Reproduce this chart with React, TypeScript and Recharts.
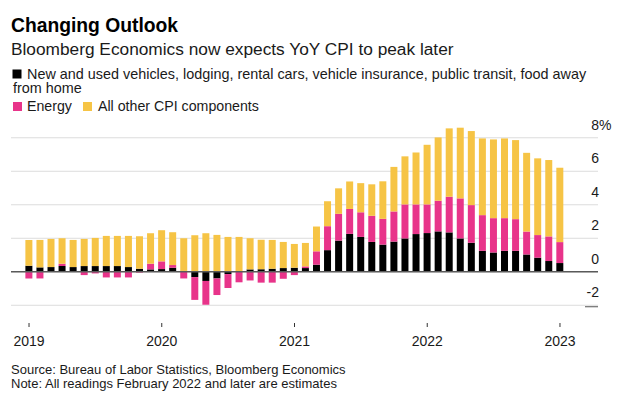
import React from "react";
import {
  Bar,
  BarChart,
  CartesianGrid,
  ReferenceLine,
  XAxis,
  YAxis,
} from "recharts";

const FONT = '"Liberation Sans", Arial, Helvetica, sans-serif';

const years = [2019, 2020, 2021, 2022, 2023];
const monthNames = ["Jan", "Feb", "Mar", "Apr", "May", "Jun", "Jul", "Aug", "Sep", "Oct", "Nov", "Dec"];
const months = years
  .flatMap((y) => monthNames.map((m) => `${m} ${y}`))
  .slice(0, 49);

// black: vehicles, lodging, rental cars, insurance, transit, food away from home
const servicesGoods = [
  0.36, 0.26, 0.28, 0.34, 0.28, 0.34, 0.34, 0.34, 0.34, 0.28, 0.18, 0.14,
  0.16, 0.24, 0.05, -0.32, -0.55, -0.4, -0.14, 0, 0.14, 0.15, 0.18, 0.22,
  0.24, 0.22, 0.42, 1.29, 1.86, 2.26, 2.08, 1.78, 1.62, 1.8, 1.99, 2.25,
  2.31, 2.41, 2.35, 1.99, 1.73, 1.25, 1.15, 1.25, 1.25, 1.03, 0.84, 0.64,
  0.52,
];

const energy = [
  -0.4, -0.4, 0, 0.14, 0, -0.2, -0.1, -0.34, -0.34, -0.34, -0.05, 0.34,
  0.46, 0.16, -0.4, -1.36, -1.42, -0.99, -0.83, -0.63, -0.52, -0.65, -0.65, -0.42,
  -0.2, 0.1, 0.8, 1.43, 1.6, 1.49, 1.47, 1.56, 1.54, 1.8, 2.03, 1.77,
  1.71, 1.83, 2.13, 2.39, 2.25, 2.13, 2.05, 1.95, 1.89, 1.37, 1.35, 1.47,
  1.25,
];

const otherCpi = [
  1.54, 1.64, 1.68, 1.52, 1.62, 1.62, 1.68, 1.8, 1.8, 1.86, 1.94, 1.82,
  1.86, 1.96, 1.95, 2.18, 2.3, 2.2, 2.08, 2.08, 1.86, 1.76, 1.72, 1.56,
  1.42, 1.4, 1.48, 1.49, 1.52, 1.64, 1.74, 1.88, 2.24, 2.66, 2.87, 3.1,
  3.56, 3.78, 4.08, 4.22, 4.42, 4.58, 4.7, 4.76, 4.72, 4.7, 4.58, 4.56,
  4.44,
];

const yTicks = [-2, 0, 2, 4, 6, 8];

const data = months.map((month, i) => ({
  month,
  black: servicesGoods[i],
  energy: energy[i],
  other: otherCpi[i],
}));

const BLACK = "#000000";
const PINK = "#e8348a";
const YELLOW = "#f6c445";
const TEXT = "#1a1a1a";

const XTick = (props: any) => {
  const { x, y, payload } = props;
  return (
    <g>
      <line x1={x} x2={x} y1={y + 1} y2={y + 5} stroke="#333" strokeWidth={1} />
      <text x={x} y={y + 24} textAnchor="middle" fontSize={14} fill={TEXT} fontFamily={FONT}>
        {String(payload.value).split(" ")[1]}
      </text>
    </g>
  );
};

const YTick = (props: any) => {
  const { x, y, payload } = props;
  const v = payload.value;
  return (
    <g>
      <text x={x + 1} y={y - 8} textAnchor="end" fontSize={14} fill={TEXT} fontFamily={FONT}>
        {v}
      </text>
      {v === 8 && (
        <text x={x + 1} y={y - 8} textAnchor="start" fontSize={14} fill={TEXT} fontFamily={FONT}>
          %
        </text>
      )}
      {v === -2 && (
        <line x1={x - 13} x2={x} y1={y + 1.5} y2={y + 1.5} stroke="#555" strokeWidth={1} />
      )}
    </g>
  );
};

const App = () => {
  return (
    <div
      style={{
        position: "absolute",
        left: 0,
        top: 0,
        width: 630,
        height: 412,
        background: "#fff",
        fontFamily: FONT,
      }}
    >
      <BarChart
        width={630}
        height={412}
        data={data}
        stackOffset="sign"
        margin={{ top: 121, right: 31, left: 11, bottom: 60 }}
        barCategoryGap="17%"
      >
        <CartesianGrid vertical={false} syncWithTicks stroke="#dcdcdc" strokeWidth={1} />
        <XAxis
          dataKey="month"
          interval={11}
          height={30}
          axisLine={false}
          tickLine={false}
          tickSize={0}
          tickMargin={0}
          padding={{ left: 12.5, right: 32.5 }}
          tick={<XTick />}
        />
        <YAxis
          orientation="right"
          width={1}
          domain={[-3, 9]}
          ticks={yTicks}
          axisLine={false}
          tickLine={false}
          tickSize={0}
          tickMargin={0}
          tick={<YTick />}
        />
        <Bar dataKey="black" stackId="a" fill={BLACK} isAnimationActive={false} />
        <Bar dataKey="energy" stackId="a" fill={PINK} isAnimationActive={false} />
        <Bar dataKey="other" stackId="a" fill={YELLOW} isAnimationActive={false} />
        <ReferenceLine y={0} stroke="#5a5a5a" strokeWidth={1.4} />
      </BarChart>
      <svg
        width={630}
        height={412}
        style={{ position: "absolute", left: 0, top: 0, pointerEvents: "none" }}
      >
        <g fontFamily={FONT}>
          <text x={11} y={32} fontSize={19.3} fontWeight="bold" fill="#000">
            Changing Outlook
          </text>
          <text x={11} y={55} fontSize={17.3} fill={TEXT}>
            Bloomberg Economics now expects YoY CPI to peak later
          </text>
          <rect x={12.5} y={69.5} width={9} height={9} fill={BLACK} />
          <text x={27} y={78.5} fontSize={14.4} fill={TEXT}>
            New and used vehicles, lodging, rental cars, vehicle insurance, public transit, food away
          </text>
          <text x={13} y={93} fontSize={14.4} fill={TEXT}>
            from home
          </text>
          <rect x={13} y={102} width={9} height={9} fill={PINK} />
          <text x={27} y={111} fontSize={14.2} fill={TEXT}>
            Energy
          </text>
          <rect x={83} y={102} width={9} height={9} fill={YELLOW} />
          <text x={98} y={111} fontSize={14.2} fill={TEXT}>
            All other CPI components
          </text>
          <text x={11} y={374} fontSize={13} fill={TEXT}>
            Source: Bureau of Labor Statistics, Bloomberg Economics
          </text>
          <text x={11} y={388} fontSize={13} fill={TEXT}>
            Note: All readings February 2022 and later are estimates
          </text>
        </g>
      </svg>
    </div>
  );
};

export default App;
